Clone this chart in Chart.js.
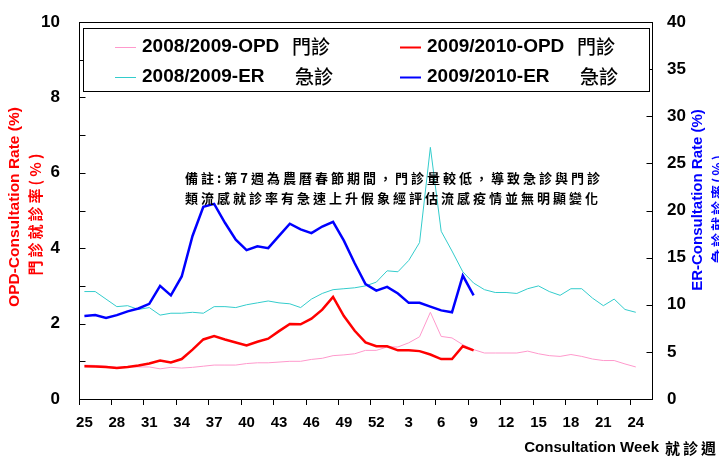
<!DOCTYPE html>
<html>
<head>
<meta charset="utf-8">
<script src="https://cdn.jsdelivr.net/npm/chart.js@4"></script>
<style>
  html, body { margin: 0; background: #fff; }
</style>
</head>
<body>
<canvas id="rate" width="719" height="456"></canvas>
<script>
const WEEKS = [25,26,27,28,29,30,31,32,33,34,35,36,37,38,39,40,41,42,43,44,45,46,47,48,49,50,51,52,
  1,2,3,4,5,6,7,8,9,10,11,12,13,14,15,16,17,18,19,20,21,22,23,24,'']

// OPD rates (%), left axis
const OPD_0809 = [0.90,0.89,0.87,0.84,0.86,0.85,0.85,0.80,0.84,0.82,
  0.84,0.87,0.90,0.90,0.90,0.94,0.96,0.96,0.98,1.00,
  1.00,1.05,1.08,1.15,1.17,1.20,1.29,1.29,1.38,1.38,
  1.49,1.65,2.30,1.66,1.62,1.44,1.31,1.22,1.22,1.22,
  1.22,1.27,1.20,1.15,1.13,1.18,1.13,1.06,1.02,1.02,
  0.93,0.85]
const OPD_0910 = [0.87,0.86,0.85,0.82,0.85,0.89,0.94,1.02,0.97,1.06,
  1.31,1.58,1.67,1.58,1.50,1.42,1.52,1.60,1.80,1.99,
  1.98,2.13,2.37,2.71,2.20,1.81,1.50,1.40,1.40,1.29,
  1.29,1.27,1.18,1.06,1.06,1.40,1.29]

// ER rates (%), right axis
const ER_0809 = [11.4,11.4,10.6,9.8,9.9,9.5,9.7,8.9,9.1,9.1,
  9.2,9.1,9.8,9.8,9.7,10.0,10.2,10.4,10.2,10.1,
  9.7,10.6,11.2,11.6,11.7,11.8,12.0,12.4,13.6,13.5,
  14.7,16.6,26.7,17.8,15.7,13.5,12.3,11.6,11.3,11.3,
  11.2,11.7,12.0,11.4,11.0,11.7,11.7,10.7,9.9,10.6,
  9.5,9.2]
const ER_0910 = [8.8,8.9,8.6,8.9,9.3,9.6,10.1,12.0,11.0,13.0,
  17.3,20.4,20.7,18.7,16.9,15.8,16.2,16.0,17.3,18.6,
  18.0,17.6,18.3,18.8,16.8,14.4,12.2,11.5,11.9,11.2,
  10.2,10.2,9.8,9.4,9.2,13.1,11.0]

const LEGEND_NAMES = ['2008/2009-OPD', '2009/2010-OPD', '2008/2009-ER', '2009/2010-ER']
const LEGEND_ZH = ['門診', '門診', '急診', '急診']
const NOTE = ['備註:第7週為農曆春節期間，門診量較低，導致急診與門診',
  '類流感就診率有急速上升假象經評估流感疫情並無明顯變化']

const LATIN = '"Liberation Sans", Arial, sans-serif'
const CJK = '"Noto Sans CJK TC", "Noto Sans CJK SC", sans-serif'

function rotText(ctx, text, x, y, font, color) {
  ctx.save()
  ctx.translate(x, y)
  ctx.rotate(-Math.PI / 2)
  ctx.font = font
  ctx.fillStyle = color
  ctx.textAlign = 'center'
  ctx.textBaseline = 'middle'
  ctx.fillText(text, 0, 0)
  ctx.restore()
}

const frame = {
  id: 'frame',
  afterDraw(chart) {
    const {ctx, chartArea: a, scales} = chart
    const L = Math.round(a.left) + 0.5, R = Math.round(a.right) + 0.5
    const T = Math.round(a.top) + 0.5, B = Math.round(a.bottom) + 0.5
    ctx.save()
    ctx.strokeStyle = '#000'
    ctx.lineWidth = 1
    ctx.strokeRect(L, T, R - L, B - T)

    // tick marks pointing into the plot
    ctx.beginPath()
    scales.y.ticks.forEach(t => {
      const y = Math.round(scales.y.getPixelForValue(t.value)) + 0.5
      ctx.moveTo(L, y); ctx.lineTo(L + 6, y)
    })
    scales.y1.ticks.forEach(t => {
      const y = Math.round(scales.y1.getPixelForValue(t.value)) + 0.5
      ctx.moveTo(R, y); ctx.lineTo(R - 6, y)
    })
    ctx.stroke()

    // legend box
    ctx.fillStyle = '#fff'
    ctx.fillRect(83.5, 28.5, 566, 63)
    ctx.strokeRect(83.5, 28.5, 566, 63)
    chart.data.datasets.forEach((ds, i) => {
      const col = i % 2, row = Math.floor(i / 2)
      const x0 = col ? 400 : 115
      const y = row ? 77 : 47
      ctx.strokeStyle = ds.borderColor
      ctx.lineWidth = ds.borderWidth > 1 ? 2 : 1
      ctx.beginPath()
      ctx.moveTo(x0, y + 0.5); ctx.lineTo(x0 + 21, y + 0.5)
      ctx.stroke()
      ctx.fillStyle = '#000'
      ctx.textBaseline = 'middle'
      ctx.textAlign = 'left'
      ctx.font = 'bold 19px ' + LATIN
      ctx.fillText(LEGEND_NAMES[i], x0 + 27, y)
      ctx.font = '500 19px ' + CJK
      ctx.fillText(LEGEND_ZH[i], x0 + 27 + (row ? 153 : 150), y)
    })

    // note
    ctx.fillStyle = '#000'
    ctx.font = 'bold 13px ' + CJK
    ctx.letterSpacing = '3px'
    ctx.textAlign = 'left'
    ctx.textBaseline = 'middle'
    ctx.fillText(NOTE[0], 185, 178)
    ctx.fillText(NOTE[1], 185, 198)
    ctx.letterSpacing = '0px'

    // axis titles
    rotText(ctx, 'OPD-Consultation Rate (%)', 15, 207, 'bold 15.5px ' + LATIN, '#ff0000')
    ctx.letterSpacing = '3px'
    rotText(ctx, '門診就診率(%)', 35, 213, 'bold 15px ' + CJK, '#ff0000')
    ctx.letterSpacing = '0px'
    rotText(ctx, 'ER-Consultation Rate (%)', 698, 200, 'bold 15px ' + LATIN, '#0000ff')
    ctx.letterSpacing = '2px'
    rotText(ctx, '急診就診率(%)', 718, 208, 'bold 14px ' + CJK, '#0000ff')
    ctx.letterSpacing = '0px'

    ctx.fillStyle = '#000'
    ctx.textBaseline = 'middle'
    ctx.textAlign = 'right'
    ctx.font = 'bold 15px ' + LATIN
    ctx.fillText('Consultation Week', 659, 448)
    ctx.textAlign = 'left'
    ctx.font = 'bold 15px ' + CJK
    ctx.letterSpacing = '3px'
    ctx.fillText('就診週', 665, 448)
    ctx.restore()
  }
}

const ctx = document.getElementById('rate')
const rateChart = new Chart(ctx, {
  type: 'line',
  plugins: [frame],
  data: {
    labels: WEEKS,
    datasets: [
      {
        label: LEGEND_NAMES[0] + ' ' + LEGEND_ZH[0],
        data: OPD_0809,
        yAxisID: 'y',
        borderColor: '#ff99cc',
        borderWidth: 1,
        order: 4,
      },
      {
        label: LEGEND_NAMES[1] + ' ' + LEGEND_ZH[1],
        data: OPD_0910,
        yAxisID: 'y',
        borderColor: '#ff0000',
        borderWidth: 2.5,
        order: 2,
      },
      {
        label: LEGEND_NAMES[2] + ' ' + LEGEND_ZH[2],
        data: ER_0809,
        yAxisID: 'y1',
        borderColor: '#33cccc',
        borderWidth: 1,
        order: 3,
      },
      {
        label: LEGEND_NAMES[3] + ' ' + LEGEND_ZH[3],
        data: ER_0910,
        yAxisID: 'y1',
        borderColor: '#0000ff',
        borderWidth: 2.5,
        order: 1,
      },
    ],
  },
  options: {
    responsive: false,
    animation: false,
    elements: {
      point: { radius: 0 },
      line: { tension: 0 },
    },
    layout: { padding: { top: 22, left: 0, right: 0, bottom: 0 } },
    plugins: {
      legend: { display: false },
      tooltip: { enabled: false },
    },
    scales: {
      x: {
        offset: true,
        border: { display: false },
        grid: {
          offset: true,
          drawOnChartArea: false,
          tickLength: 6,
          tickColor: c => c.index % 3 === 0 ? '#000' : 'rgba(0,0,0,0)',
        },
        ticks: {
          autoSkip: false,
          maxRotation: 0,
          padding: 9,
          color: '#000',
          font: { family: LATIN, size: 15, weight: 'bold' },
          callback: (v, i) => i % 3 === 0 ? WEEKS[i] : '',
        },
        afterFit: s => { s.height = 57 },
      },
      y: {
        position: 'left',
        min: 0,
        max: 10,
        border: { display: false },
        grid: { display: false },
        ticks: {
          stepSize: 1,
          padding: 11,
          color: '#000',
          font: { family: LATIN, size: 17, weight: 'bold' },
          callback: v => v % 2 === 0 ? v : '',
        },
        afterFit: s => { s.width = 79 },
      },
      y1: {
        position: 'right',
        min: 0,
        max: 40,
        border: { display: false },
        grid: { display: false },
        ticks: {
          stepSize: 5,
          padding: 7,
          color: '#000',
          font: { family: LATIN, size: 17, weight: 'bold' },
        },
        afterFit: s => { s.width = 67 },
      },
    },
  },
})
</script>
</body>
</html>
